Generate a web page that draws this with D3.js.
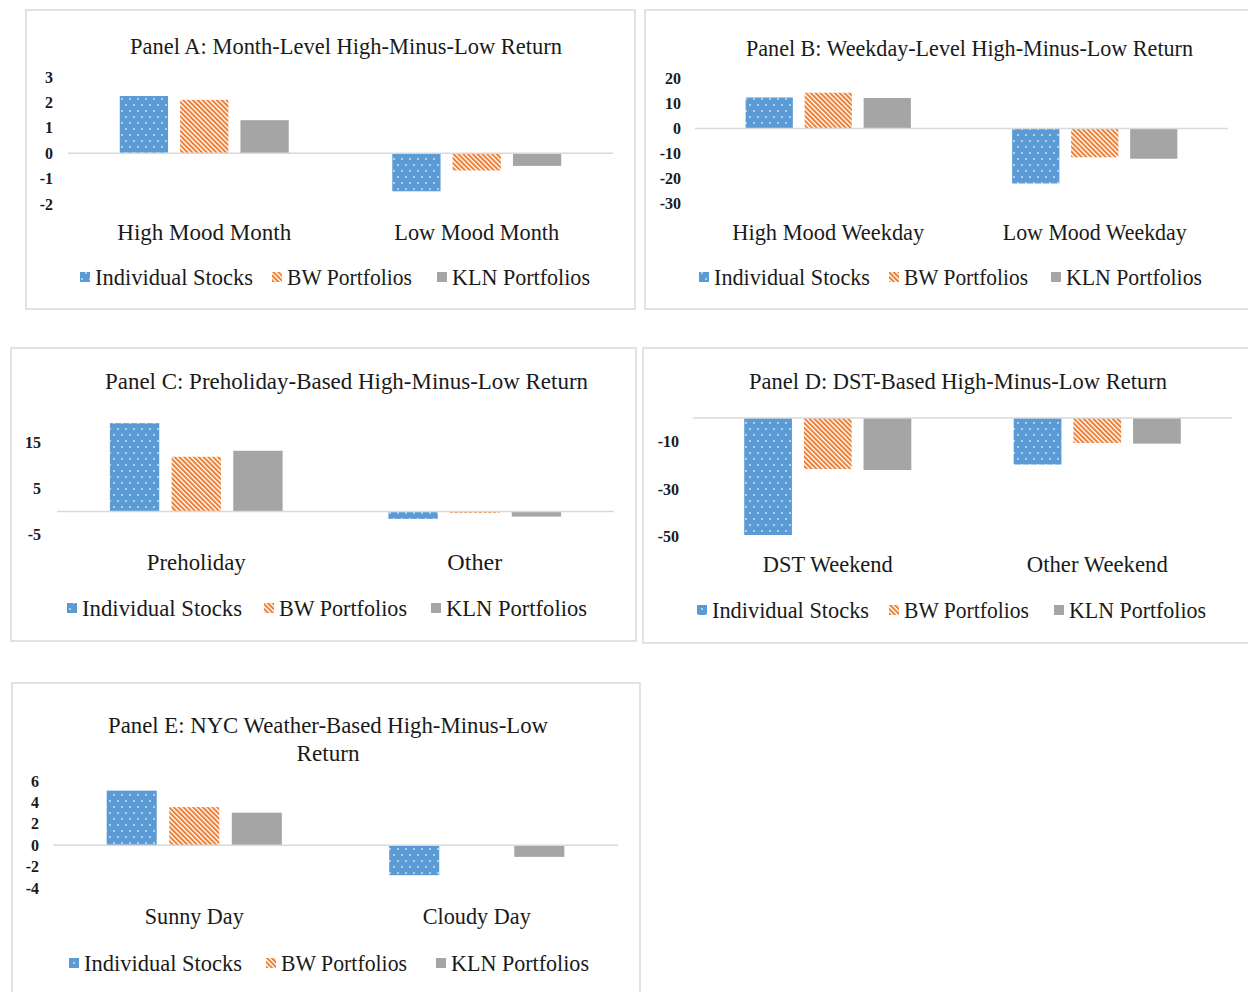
<!DOCTYPE html>
<html>
<head>
<meta charset="utf-8">
<script src="https://cdn.jsdelivr.net/npm/d3@7/dist/d3.min.js"></script>
<style>
  html, body { margin: 0; padding: 0; background: #fff; }
  svg { display: block; }
  text { font-family: "Liberation Serif", "Times New Roman", serif; fill: #1a1a1a; }
</style>
</head>
<body>
<svg id="chart" width="1248" height="992"></svg>
<script>
// ---------------- DATA ----------------
const seriesNames = ["Individual Stocks", "BW Portfolios", "KLN Portfolios"];

const titleA = ["Panel A: Month-Level High-Minus-Low Return"];
const categoriesA = ["High Mood Month", "Low Mood Month"];
const individualA = [2.25, -1.5];
const bwA = [2.1, -0.68];
const klnA = [1.3, -0.5];
const ticksA = [-2, -1, 0, 1, 2, 3];

const titleB = ["Panel B: Weekday-Level High-Minus-Low Return"];
const categoriesB = ["High Mood Weekday", "Low Mood Weekday"];
const individualB = [12.4, -22];
const bwB = [14.3, -11.5];
const klnB = [12.2, -12.1];
const ticksB = [-30, -20, -10, 0, 10, 20];

const titleC = ["Panel C: Preholiday-Based High-Minus-Low Return"];
const categoriesC = ["Preholiday", "Other"];
const individualC = [19.2, -1.6];
const bwC = [11.9, -0.3];
const klnC = [13.2, -1.1];
const ticksC = [-5, 5, 15];

const titleD = ["Panel D: DST-Based High-Minus-Low Return"];
const categoriesD = ["DST Weekend", "Other Weekend"];
const individualD = [-49.3, -19.6];
const bwD = [-21.5, -10.5];
const klnD = [-21.9, -10.8];
const ticksD = [-50, -30, -10];

const titleE = ["Panel E: NYC Weather-Based High-Minus-Low", "Return"];
const categoriesE = ["Sunny Day", "Cloudy Day"];
const individualE = [5.1, -2.8];
const bwE = [3.56, -0.05];
const klnE = [3.04, -1.09];
const ticksE = [-4, -2, 0, 2, 4, 6];

// ---------------- LAYOUT ----------------
const panels = [
  { title: titleA, cats: categoriesA, vals: [individualA, bwA, klnA], ticks: ticksA,
    frame: [26, 10, 609, 299], px: [68, 613], domain: [-2, 3], range: [204, 77], tickX: 53,
    titleX: 346, titleY: [46], titleLen: [432], catY: 232, catLen: [174, 165],
    legY: 277, legX: [80, 272, 437], legLen: [158, 125, 138] },
  { title: titleB, cats: categoriesB, vals: [individualB, bwB, klnB], ticks: ticksB,
    frame: [645, 10, 640, 299], px: [695, 1228], domain: [-30, 20], range: [203.5, 78.5], tickX: 681,
    titleX: 969.5, titleY: [48], titleLen: [447], catY: 232, catLen: [192, 184],
    legY: 277, legX: [699, 889, 1051], legLen: [156, 124, 136] },
  { title: titleC, cats: categoriesC, vals: [individualC, bwC, klnC], ticks: ticksC,
    frame: [11, 348, 625, 293], px: [57, 614], domain: [-5, 20], range: [534.5, 419.5], tickX: 41,
    titleX: 346.5, titleY: [381], titleLen: [483], catY: 562, catLen: [99, 55],
    legY: 608, legX: [67, 264, 431], legLen: [160, 128, 141] },
  { title: titleD, cats: categoriesD, vals: [individualD, bwD, klnD], ticks: ticksD,
    frame: [643, 348, 640, 295], px: [693, 1232], domain: [-50, 0], range: [536.7, 418], tickX: 679,
    titleX: 958, titleY: [381], titleLen: [418], catY: 564, catLen: [130, 141],
    legY: 610, legX: [697, 889, 1054], legLen: [157, 125, 137] },
  { title: titleE, cats: categoriesE, vals: [individualE, bwE, klnE], ticks: ticksE,
    frame: [12, 683, 628, 330], px: [53, 618], domain: [-4, 6], range: [888, 781], tickX: 39,
    titleX: 328, titleY: [725, 753], titleLen: [440, 63], catY: 916, catLen: [99, 108],
    legY: 963, legX: [69, 266, 436], legLen: [158, 126, 138] }
];

const svg = d3.select("#chart");
const defs = svg.append("defs");

// dotted blue pattern
const pDots = defs.append("pattern").attr("id", "dots")
  .attr("patternUnits", "userSpaceOnUse").attr("width", 8).attr("height", 12);
pDots.append("rect").attr("width", 8).attr("height", 12).attr("fill", "#5b9bd5");
pDots.append("circle").attr("cx", 2).attr("cy", 3).attr("r", 0.9).attr("fill", "#dbe9f7");
pDots.append("circle").attr("cx", 6).attr("cy", 9).attr("r", 0.9).attr("fill", "#dbe9f7");

// orange diagonal stripes
const pStr = defs.append("pattern").attr("id", "stripes")
  .attr("patternUnits", "userSpaceOnUse").attr("width", 3.4).attr("height", 3.4)
  .attr("patternTransform", "rotate(-45)");
pStr.append("rect").attr("width", 3.4).attr("height", 3.4).attr("fill", "#fff");
pStr.append("rect").attr("width", 2.0).attr("height", 3.4).attr("fill", "#ed7d31");

const fills = ["url(#dots)", "url(#stripes)", "#a5a5a5"];

panels.forEach(p => {
  const g = svg.append("g");
  const [fx, fy, fw, fh] = p.frame;
  g.append("rect").attr("x", fx).attr("y", fy).attr("width", fw).attr("height", fh)
    .attr("fill", "#fff").attr("stroke", "#d9d9d9").attr("stroke-width", 1.5);

  // title
  p.title.forEach((t, i) => {
    g.append("text").attr("x", p.titleX).attr("y", p.titleY[i]).attr("dy", "0.35em")
      .attr("text-anchor", "middle").attr("font-size", 22.5)
      .attr("textLength", p.titleLen[i]).attr("lengthAdjust", "spacingAndGlyphs")
      .text(t);
  });

  const x0 = d3.scaleBand().domain(p.cats).range(p.px).paddingInner(0.38).paddingOuter(0.19);
  const x1 = d3.scaleBand().domain(seriesNames).range([0, x0.bandwidth()]).paddingInner(0.2);
  const y = d3.scaleLinear().domain(p.domain).range(p.range);

  // y tick labels via axis
  const axis = d3.axisLeft(y).tickValues(p.ticks).tickSize(0).tickPadding(0).tickFormat(d => String(d));
  const ag = g.append("g").attr("transform", `translate(${p.tickX},0)`).call(axis);
  ag.select(".domain").remove();
  ag.selectAll("text").attr("font-size", 16).attr("font-weight", "bold")
    .attr("font-family", "'Liberation Serif', serif").attr("fill", "#1a1a1a");

  // bars
  p.cats.forEach((c, ci) => {
    seriesNames.forEach((s, si) => {
      const v = p.vals[si][ci];
      g.append("rect")
        .attr("x", x0(c) + x1(s))
        .attr("y", Math.min(y(v), y(0)))
        .attr("width", x1.bandwidth())
        .attr("height", Math.max(Math.abs(y(v) - y(0)), 0.8))
        .attr("fill", fills[si]);
    });
  });

  // zero line
  g.append("line").attr("x1", p.px[0]).attr("x2", p.px[1]).attr("y1", y(0)).attr("y2", y(0))
    .attr("stroke", "#d9d9d9").attr("stroke-width", 1.5);

  // category labels
  p.cats.forEach((c, ci) => {
    g.append("text").attr("x", x0(c) + x0.bandwidth() / 2).attr("y", p.catY).attr("dy", "0.35em")
      .attr("text-anchor", "middle").attr("font-size", 22.5)
      .attr("textLength", p.catLen[ci]).attr("lengthAdjust", "spacingAndGlyphs")
      .text(c);
  });

  // legend
  seriesNames.forEach((s, si) => {
    const lx = p.legX[si];
    g.append("rect").attr("x", lx).attr("y", p.legY - 5).attr("width", 10).attr("height", 10)
      .attr("fill", fills[si]);
    g.append("text").attr("x", lx + 15).attr("y", p.legY).attr("dy", "0.35em")
      .attr("font-size", 22.5)
      .attr("textLength", p.legLen[si]).attr("lengthAdjust", "spacingAndGlyphs")
      .text(s);
  });
});
</script>
</body>
</html>
